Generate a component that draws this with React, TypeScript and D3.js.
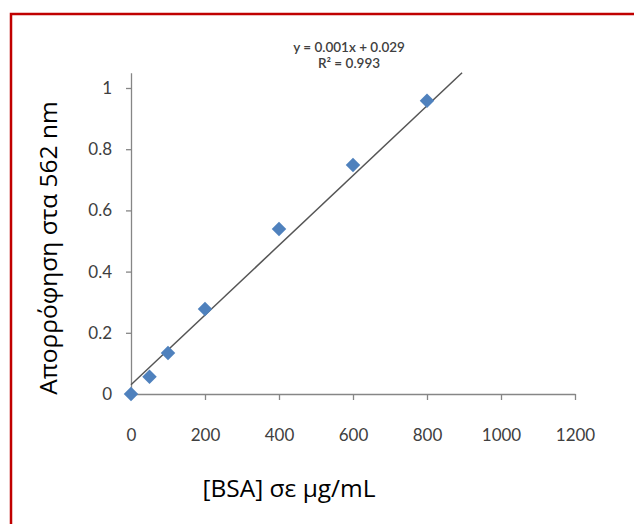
import React, { useEffect, useRef } from "react";
import * as d3 from "d3";

// BSA standard curve
const concentrations = [0, 50, 100, 200, 400, 600, 800];
const absorbances = [0, 0.056, 0.134, 0.278, 0.539, 0.748, 0.958];
const xTicks = [0, 200, 400, 600, 800, 1000, 1200];
const yTicks = [0, 0.2, 0.4, 0.6, 0.8, 1];
const trendSlope = 0.00114;
const trendIntercept = 0.03;
const equationLines = ["y = 0.001x + 0.029", "R\u00b2 = 0.993"];

const W = 634;
const H = 524;
const font = "Lato, 'Open Sans', sans-serif";
const labelFont = "'Open Sans', Lato, sans-serif";

const App = () => {
  const xRef = useRef<SVGGElement>(null);
  const yRef = useRef<SVGGElement>(null);

  const x = d3.scaleLinear().domain([0, 1200]).range([131, 575]);
  const y = d3.scaleLinear().domain([0, 1.05]).range([394, 72.7]);

  useEffect(() => {
    const gx = d3.select(xRef.current);
    gx.call(
      d3.axisBottom(x).tickValues(xTicks).tickSize(6).tickSizeOuter(0).tickPadding(29).tickFormat(d3.format("d"))
    );
    const gy = d3.select(yRef.current);
    gy.call(
      d3.axisLeft(y).tickValues(yTicks).tickSize(5).tickSizeOuter(0).tickPadding(14).tickFormat(d3.format("~g"))
    );
    [gx, gy].forEach(g => {
      g.select(".domain").attr("stroke", "#868686").attr("stroke-width", 1.3);
      g.selectAll(".tick line").attr("stroke", "#868686").attr("stroke-width", 1.3);
      g.selectAll(".tick text")
        .attr("fill", "#404040")
        .style("font-family", font)
        .style("font-size", "17px");
    });
  }, []);

  const xEnd = (1.05 - trendIntercept) / trendSlope;
  const trend = d3.line<number>()
    .x(d => x(d))
    .y(d => y(trendIntercept + trendSlope * d));
  const diamond = d3.symbol(d3.symbolSquare, 105)();

  return (
    <svg width={W} height={H} style={{ position: "absolute", left: 0, top: 0, background: "#fff" }}>
      <rect x={11} y={14} width={W} height={H} fill="none" stroke="#c00000" strokeWidth={2.5} />
      <g ref={xRef} transform="translate(0,394)" />
      <g ref={yRef} transform="translate(131,0)" />
      <path d={trend([0, xEnd]) || ""} stroke="#555" strokeWidth={1.5} fill="none" />
      {concentrations.map((c, i) => (
        <path
          key={i}
          d={diamond || ""}
          transform={`translate(${x(c)},${y(absorbances[i])}) rotate(45)`}
          fill="#4f81bd"
        />
      ))}
      <text x={349} fill="#404040" textAnchor="middle" style={{ fontFamily: font, fontSize: 13.5, fontWeight: 600 }}>
        {equationLines.map((t, i) => (
          <tspan key={i} x={349} y={52 + i * 16}>{t}</tspan>
        ))}
      </text>
      <text
        transform="translate(57,248) rotate(-90)"
        textAnchor="middle"
        fill="#000"
        style={{ fontFamily: labelFont, fontSize: 24.5 }}
      >
        Απορρόφηση στα 562 nm
      </text>
      <text x={289} y={497} textAnchor="middle" fill="#000" style={{ fontFamily: labelFont, fontSize: 24.5 }}>
        [BSA] σε μg/mL
      </text>
    </svg>
  );
};

export default App;
